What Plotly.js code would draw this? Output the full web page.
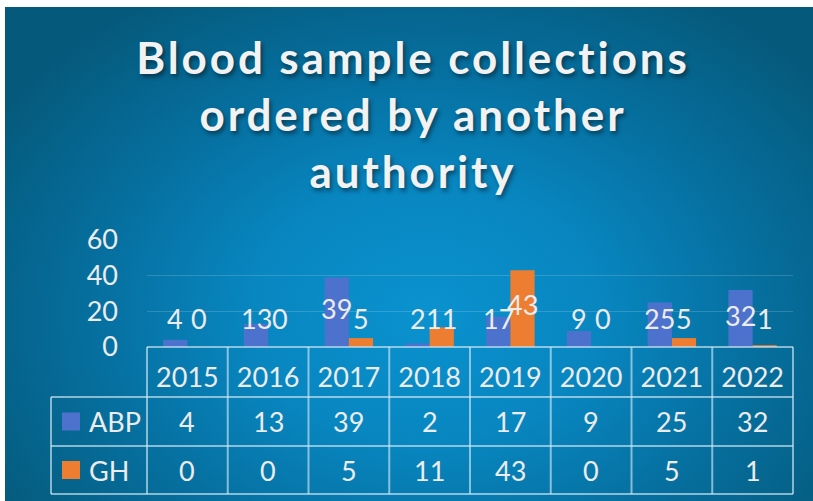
<!DOCTYPE html>
<html>
<head>
<meta charset="utf-8">
<script src="https://cdn.plot.ly/plotly-3.0.1.min.js"></script>
<style>
  html, body { margin: 0; padding: 0; background: #ffffff; }
  #wrap { position: relative; width: 813px; height: 501px; overflow: hidden; background: #ffffff; }
  #bg { position: absolute; left: 5px; top: 7px; right: 0; bottom: 0;
        background: radial-gradient(ellipse 62% 75% at 52% 62%, #0a92cf 0%, #0886c0 35%, #0670a0 65%, #055a7c 100%); }
  #chart { position: absolute; left: 0; top: 0; width: 813px; height: 501px; }
  #chart .gtitle { letter-spacing: 2.9px; }
</style>
</head>
<body>
<div id="wrap"><div id="bg"></div><div id="chart"></div></div>
<script>
// ---- data ----
const years = ['2015', '2016', '2017', '2018', '2019', '2020', '2021', '2022'];
const abp = [4, 13, 39, 2, 17, 9, 25, 32];
const gh  = [0, 0, 5, 11, 43, 0, 5, 1];
const seriesNames = ['ABP', 'GH'];
const yTicks = [0, 20, 40, 60];

// ---- style / layout constants ----
const W = 813, H = 501;
const M = { l: 147, r: 20, t: 240, b: 154 };
const plotW = W - M.l - M.r, plotH = H - M.t - M.b;
const axisY = H - M.b;
const colors = ['#4d72ce', '#ed7d31'];
const txtColor = '#ececec';
const FONT = 'Lato, "Open Sans", sans-serif';
const lineColor = 'rgba(215,235,245,0.62)';
const py = p => (axisY - p) / plotH;         // pixel y -> paper y
const pxX = p => (p - M.l) / plotW;          // pixel x -> paper x
const nCat = years.length;
const catX = i => (i + 0.5) / nCat;          // category centre in paper x
const barShift = 12;                         // half bar width in px (label offset)

const rowTop = axisY, row1 = 397, row2 = 446, row3 = 494, legLeft = 51;

const traces = [abp, gh].map((vals, k) => ({
  type: 'bar', x: years, y: vals, name: seriesNames[k],
  marker: { color: colors[k], line: { width: 0 } },
  hoverinfo: 'skip', showlegend: false
}));

const shapes = [];
const annotations = [];
const L = { color: lineColor, width: 2 };
// horizontal table lines
shapes.push({ type: 'line', xref: 'paper', yref: 'paper', x0: 0, x1: 1, y0: py(rowTop), y1: py(rowTop), line: L, layer: 'above' });
[row1, row2, row3].forEach(r => shapes.push({ type: 'line', xref: 'paper', yref: 'paper', x0: pxX(legLeft), x1: 1, y0: py(r), y1: py(r), line: L }));
// vertical table lines at category boundaries
for (let i = 0; i <= nCat; i++) {
  shapes.push({ type: 'line', xref: 'paper', yref: 'paper', x0: i / nCat, x1: i / nCat, y0: py(rowTop), y1: py(row3), line: L });
}
shapes.push({ type: 'line', xref: 'paper', yref: 'paper', x0: pxX(legLeft), x1: pxX(legLeft), y0: py(row1), y1: py(row3), line: L });

// legend keys + names inside the table
const rowCenters = [(row1 + row2) / 2, (row2 + row3) / 2];
[abp, gh].forEach((vals, k) => {
  const c = rowCenters[k];
  shapes.push({ type: 'rect', xref: 'paper', yref: 'paper', x0: pxX(62), x1: pxX(80), y0: py(c + 9), y1: py(c - 9),
    fillcolor: colors[k], line: { width: 0 } });
  annotations.push({ xref: 'paper', yref: 'paper', x: pxX(87), y: py(c), xanchor: 'left', yanchor: 'middle',
    text: seriesNames[k], showarrow: false, font: { family: FONT, size: 27, color: txtColor } });
  vals.forEach((v, i) => {
    annotations.push({ xref: 'paper', yref: 'paper', x: catX(i), y: py(c), xanchor: 'center', yanchor: 'middle',
      text: String(v), showarrow: false, font: { family: FONT, size: 27, color: txtColor } });
    // data label over the bar
    annotations.push({ xref: 'paper', yref: 'y', x: catX(i), y: Math.max(15.8, v * 0.55), xshift: k === 0 ? -barShift : barShift,
      xanchor: 'center', yanchor: 'middle', text: String(v), showarrow: false,
      font: { family: FONT, size: 27, color: txtColor } });
  });
});

const layout = {
  width: W, height: H,
  margin: M,
  paper_bgcolor: 'rgba(0,0,0,0)', plot_bgcolor: 'rgba(0,0,0,0)',
  barmode: 'group', bargap: 0.4, bargroupgap: 0,
  title: {
    text: 'Blood sample collections<br>ordered by another<br>authority',
    x: 0.508, xanchor: 'center', y: 1 - 74 / H, yanchor: 'top',
    font: { family: FONT, size: 44, weight: 'bold', color: '#f2f2f2', shadow: '2px 3px 4px rgba(0,0,0,0.45)' }
  },
  xaxis: {
    type: 'category', range: [-0.5, nCat - 0.5], autorange: false,
    showgrid: false, zeroline: false, showline: false, ticks: '',
    tickfont: { family: FONT, size: 27, color: txtColor }, ticklabelstandoff: 12, fixedrange: true
  },
  yaxis: {
    range: [0, 60], autorange: false, tickvals: yTicks, ticktext: yTicks.map(String), showgrid: true,
    gridcolor: 'rgba(255,255,255,0.16)', gridwidth: 1.5, zeroline: false, showline: false, ticks: '',
    tickfont: { family: FONT, size: 27, color: txtColor }, ticklabelstandoff: 28, fixedrange: true
  },
  shapes, annotations,
  showlegend: false
};

Plotly.newPlot('chart', traces, layout, { displayModeBar: false, staticPlot: true });
</script>
</body>
</html>
